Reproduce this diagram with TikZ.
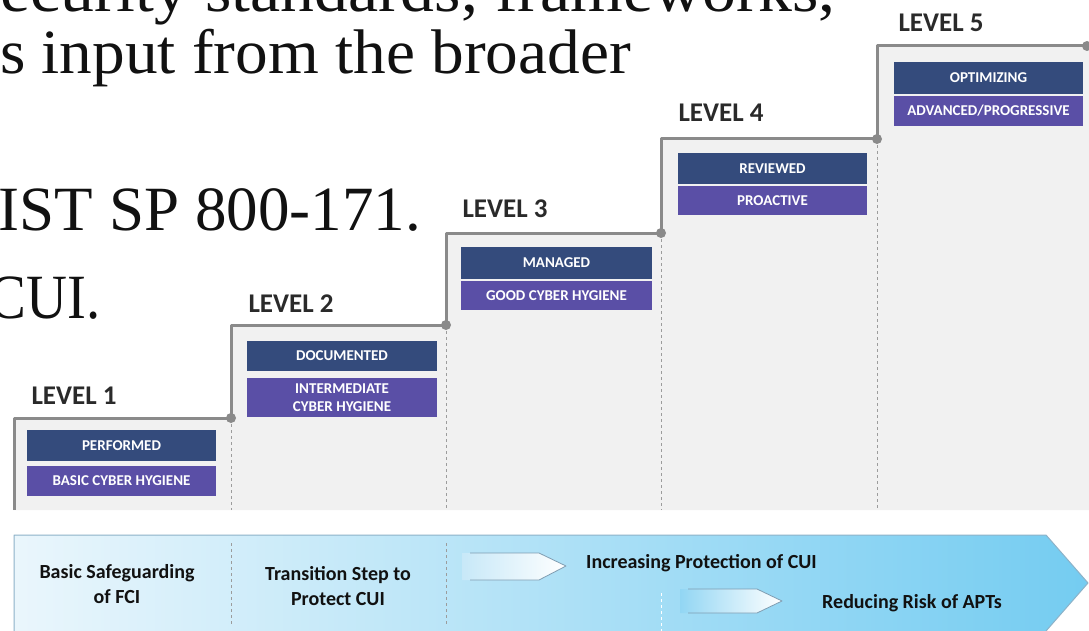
\documentclass[tikz,border=0pt]{standalone}
\usepackage{fontspec}
\usepackage{graphicx}
\setmainfont{Liberation Serif}
\newfontfamily\carlito{Carlito}
\definecolor{stairgray}{HTML}{8A8A8A}
\definecolor{stepbg}{HTML}{F1F1F1}
\definecolor{boxnavy}{HTML}{344B7C}
\definecolor{boxpurple}{HTML}{5A4FA6}
\definecolor{labelgray}{HTML}{2A2A2A}
\definecolor{textblack}{HTML}{111111}
\definecolor{arrowleft}{HTML}{EAF6FC}
\definecolor{arrowmid}{HTML}{BFE5F7}
\definecolor{arrowright}{HTML}{74CCF1}
\definecolor{arrowline}{HTML}{8DB2C8}
\definecolor{smallline}{HTML}{7F9DB2}
\tikzset{
  serifline/.style={inner sep=0pt, font=\fontsize{63}{63}\selectfont, text=textblack},
  stair/.style={draw=stairgray, line width=3pt, line join=round},
  cornerdot/.style={circle, fill=stairgray, inner sep=0pt, minimum size=10pt},
  divider/.style={draw=stairgray!85, line width=1pt, dash pattern=on 3pt off 3pt},
  boxtext/.style={text=white, inner sep=0pt, align=center,
    font=\carlito\bfseries\fontsize{15}{18}\selectfont},
  topbox/.style={boxtext, fill=boxnavy},
  botbox/.style={boxtext, fill=boxpurple},
  levellabel/.style={inner sep=0pt, text=labelgray, font=\carlito\bfseries\fontsize{27}{27}\selectfont},
  lowtext/.style={inner sep=0pt, align=center, text=textblack, font=\carlito\bfseries\fontsize{20}{25}\selectfont},
  smallarrow/.style={draw=smallline, line width=0.8pt, line join=round}
}
\begin{document}
\begin{tikzpicture}[x=1pt,y=-1pt]
\useasboundingbox (0,0) rectangle (1089,631);
\clip (0,0) rectangle (1089,631);
\fill[white] (0,0) rectangle (1089,631);

% stair corners
\coordinate (c0) at (14,510);
\coordinate (c1) at (14,418);
\coordinate (d1) at (231,418);
\coordinate (c2) at (231,325);
\coordinate (d2) at (446,325);
\coordinate (c3) at (446,233);
\coordinate (d3) at (661,233);
\coordinate (c4) at (661,139);
\coordinate (d4) at (877,139);
\coordinate (c5) at (877,46);
\coordinate (d5) at (1089,46);
\coordinate (e5) at (1089,510);
\coordinate (f1) at (231,510);
\coordinate (f2) at (446,510);
\coordinate (f3) at (661,510);
\coordinate (f4) at (877,510);

% background text
\node[serifline, anchor=base east] (t1) at (836,12) {\scalebox{1.076}[1]{ecurity standards, frameworks,}};
\node[serifline, anchor=base east] (t2) at (631,74) {\scalebox{1.036}[1]{s input from the broader}};
\node[serifline, anchor=base east] (t3) at (421,230) {\scalebox{1.0}[1]{NIST SP 800-171.}};
\node[serifline, anchor=base east] (t4) at (101,318) {\scalebox{0.9}[1]{CUI.}};

% gray step area
\fill[stepbg] (c0) -- (c1) -- (d1) -- (c2) -- (d2) -- (c3) -- (d3) -- (c4) -- (d4) -- (c5) -- (d5) -- (e5) -- cycle;

% dashed dividers
\draw[divider] (d1) -- (f1);
\draw[divider] (d2) -- (f2);
\draw[divider] (d3) -- (f3);
\draw[divider] (d4) -- (f4);

% stair line
\draw[stair] (c0) -- (c1) -- (d1) -- (c2) -- (d2) -- (c3) -- (d3) -- (c4) -- (d4) -- (c5) -- (d5);
\node[cornerdot] (k1) at (d1) {};
\node[cornerdot] (k2) at (d2) {};
\node[cornerdot] (k3) at (d3) {};
\node[cornerdot] (k4) at (d4) {};
\node[cornerdot] (k5) at (1087,46) {};

% level labels
\node[levellabel, anchor=base] (l1) at (74,404) {LEVEL 1};
\node[levellabel, anchor=base] (l2) at (291,312) {LEVEL 2};
\node[levellabel, anchor=base] (l3) at (505,218) {LEVEL 3};
\node[levellabel, anchor=base] (l4) at (721,122) {LEVEL 4};
\node[levellabel, anchor=base] (l5) at (941,32) {LEVEL 5};

% boxes
\node[topbox, minimum width=189pt, minimum height=31pt] (b1t) at (121.5,445.5) {PERFORMED};
\node[botbox, minimum width=189pt, minimum height=30pt] (b1b) at (121.5,481) {BASIC CYBER HYGIENE};
\node[topbox, minimum width=190pt, minimum height=30pt] (b2t) at (342,356) {DOCUMENTED};
\node[botbox, minimum width=190pt, minimum height=39pt] (b2b) at (342,397.5) {INTERMEDIATE\\CYBER HYGIENE};
\node[topbox, minimum width=191pt, minimum height=32pt] (b3t) at (556.5,263) {MANAGED};
\node[botbox, minimum width=191pt, minimum height=29pt] (b3b) at (556.5,295.5) {GOOD CYBER HYGIENE};
\node[topbox, minimum width=189pt, minimum height=31pt] (b4t) at (772.5,168.5) {REVIEWED};
\node[botbox, minimum width=189pt, minimum height=29pt] (b4b) at (772.5,200.5) {PROACTIVE};
\node[topbox, minimum width=189pt, minimum height=32pt] (b5t) at (988.5,78) {OPTIMIZING};
\node[botbox, minimum width=189pt, minimum height=30pt] (b5b) at (988.5,111) {ADVANCED/PROGRESSIVE};

% big bottom arrow
\shade[left color=arrowleft, middle color=arrowmid, right color=arrowright]
  (14,535) -- (1046,535) -- (1088,583) -- (1046,631) -- (14,631) -- cycle;
\draw[arrowline, line width=1pt, line join=round]
  (14,640) -- (14,535) -- (1046,535) -- (1088,583) -- (1046,631);

% lower dividers
\draw[divider] (231,543) -- (231,624);
\draw[divider] (446,543) -- (446,624);
\draw[white, line width=1pt, dash pattern=on 3pt off 3pt] (661,593) -- (661,631);

% small arrows
\shade[left color=arrowmid!80!arrowleft, right color=white]
  (462,553) -- (539,553) -- (566,566) -- (539,580) -- (462,580) -- cycle;
\draw[smallarrow] (470,553) -- (539,553) -- (566,566) -- (539,580) -- (470,580);
\shade[left color=arrowmid!40!arrowright, right color=white]
  (680,589) -- (757,589) -- (782,601) -- (757,613) -- (680,613) -- cycle;
\draw[smallarrow] (688,589) -- (757,589) -- (782,601) -- (757,613) -- (688,613);

% lower texts
\node[lowtext] (s1) at (117,584) {Basic Safeguarding\\of FCI};
\node[lowtext] (s2) at (338,586) {Transition Step to\\Protect CUI};
\node[lowtext, anchor=base west] (s3) at (586,568) {Increasing Protection of CUI};
\node[lowtext, anchor=base west] (s4) at (822,608) {Reducing Risk of APTs};
\end{tikzpicture}
\end{document}
